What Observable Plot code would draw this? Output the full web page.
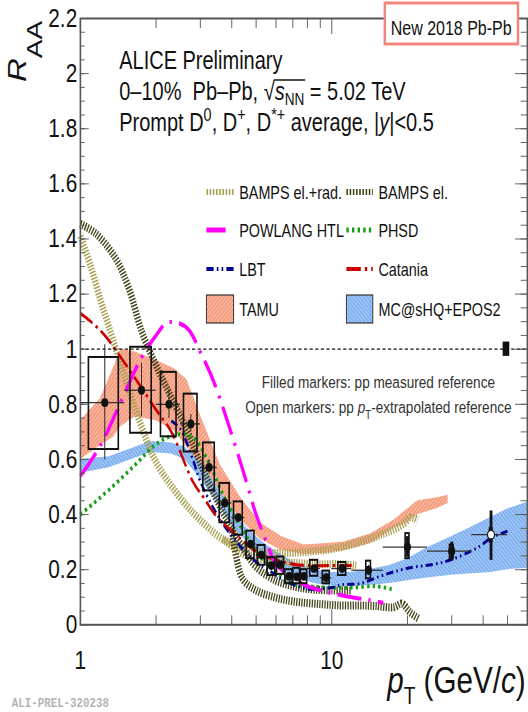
<!DOCTYPE html>
<html><head><meta charset="utf-8">
<script src="https://cdn.jsdelivr.net/npm/d3@7"></script>
<script src="https://cdn.jsdelivr.net/npm/@observablehq/plot@0.6"></script>
<style>
html,body{margin:0;padding:0;background:#fff;overflow:hidden;}
#chart svg{display:block;}
</style></head><body><div id="chart"></div>
<script>
// ---------------- data ----------------
const binEdges = [1,1.5,2,2.5,3,3.5,4,4.5,5,5.5,6,6.5,7,7.5,8,9,10,12,16,24,36,50];
const ptCenters = [1.25,1.75,2.25,2.75,3.25,3.75,4.25,4.75,5.25,5.75,6.25,6.75,7.25,7.75,8.5,9.5,11,14,20,30,43];
const raa    = [0.806,0.851,0.800,0.729,0.571,0.442,0.389,0.293,0.253,0.215,0.218,0.176,0.174,0.176,0.204,0.171,0.204,0.198,0.282,0.267,0.327];
const statLo = [0.598,0.755,0.749,0.700,0.547,0.425,0.375,0.280,0.243,0.205,0.207,0.165,0.163,0.165,0.192,0.158,0.190,0.180,0.245,0.231,0.234];
const statHi = [1.016,0.949,0.852,0.763,0.597,0.460,0.403,0.305,0.263,0.225,0.229,0.187,0.185,0.188,0.216,0.184,0.218,0.215,0.320,0.300,0.413];
const sysLo  = [0.636,0.695,0.682,0.627,0.486,0.370,0.325,0.240,0.216,0.179,0.183,0.149,0.149,0.149,0.176,0.149,0.179,0.167,0.240,0.240,0.300];
const sysHi  = [0.970,1.007,0.916,0.837,0.660,0.513,0.446,0.340,0.288,0.244,0.246,0.200,0.205,0.200,0.234,0.195,0.226,0.231,0.331,0.289,0.349];
const sysHalfWidth = [0.17,0.17,0.16,0.17,0.17,0.17,0.17,0.17,0.18,0.2,0.2,0.22,0.22,0.22,0.3,0.3,0.4,0.3,0.35,0.5,0.45];
const extrapolatedRef = [false,false,false,false,false,false,false,false,false,false,false,false,false,false,false,false,false,false,false,false,true];
const normUnc = 0.026;
const normBoxPt = [48, 51];

const tamuPt = [1.0,1.2,1.35,1.45,1.65,2.0,2.35,2.65,3.0,3.6,4.35,5.2,6.3,7.75,9.5,11.2,14.3,17.7,20,22,26,29];
const tamuLo = [0.60,0.65,0.68,0.72,0.755,0.74,0.705,0.645,0.575,0.475,0.38,0.31,0.27,0.255,0.26,0.27,0.295,0.35,0.37,0.40,0.42,0.44];
const tamuHi = [0.74,0.82,0.93,1.0,0.99,0.96,0.93,0.89,0.76,0.58,0.46,0.37,0.32,0.29,0.295,0.30,0.33,0.38,0.42,0.45,0.46,0.47];

const mcPt = [1.0,1.3,1.6,1.9,2.3,2.6,3.0,3.5,4.0,4.6,5.3,6.0,7.0,8.5,10,12,14,17,20,24,30,36,43,50,60];
const mcLo = [0.55,0.57,0.60,0.625,0.62,0.60,0.53,0.44,0.36,0.30,0.24,0.21,0.175,0.15,0.14,0.14,0.143,0.15,0.16,0.17,0.18,0.185,0.19,0.2,0.205];
const mcHi = [0.60,0.61,0.64,0.665,0.66,0.645,0.59,0.50,0.42,0.35,0.30,0.265,0.23,0.20,0.19,0.19,0.20,0.215,0.24,0.28,0.32,0.355,0.39,0.42,0.445];

const bampsElRadPt  = [1,1.1,1.2,1.3,1.5,1.75,2.0,2.5,3.0,3.7,4.5,5.2,6.5,8,10,13,16,18,19.5,20.5,22];
const bampsElRadVal = [1.41,1.30,1.18,1.08,0.90,0.72,0.59,0.46,0.38,0.31,0.28,0.265,0.26,0.265,0.275,0.30,0.33,0.35,0.37,0.39,0.38];
const bampsElRad2Pt  = [3.7,4.5,5.5,7,9,11,12.5];
const bampsElRad2Val = [0.31,0.255,0.235,0.225,0.22,0.22,0.215];
const bampsElPt  = [1,1.15,1.38,1.56,1.76,2.05,2.4,2.7,3.05,3.5,4.0,4.5,5,6,7,8,10,12];
const bampsElVal = [1.455,1.42,1.33,1.22,1.06,0.92,0.79,0.69,0.57,0.45,0.35,0.27,0.21,0.16,0.14,0.13,0.125,0.125];
const bampsEl2Pt  = [4.0,4.4,5.0,5.9,7,9,11,13,15,17.7,19,20.5,22.3];
const bampsEl2Val = [0.35,0.17,0.125,0.10,0.085,0.075,0.07,0.07,0.068,0.064,0.077,0.045,0.02];

const powlangPt  = [1,1.2,1.5,1.75,2,2.2,2.45,2.7,3,3.4,4,4.5,5,5.5,6,7,8,10,12,14,16];
const powlangVal = [0.54,0.65,0.84,0.97,1.05,1.095,1.095,1.07,0.99,0.88,0.69,0.54,0.40,0.30,0.22,0.17,0.14,0.115,0.10,0.09,0.08];
const phsdPt  = [1,1.3,1.65,2,2.4,2.8,3.2,3.7,4.25,5,6,7,8,10,12,15,17.5];
const phsdVal = [0.40,0.49,0.58,0.655,0.69,0.68,0.60,0.47,0.37,0.27,0.19,0.15,0.14,0.135,0.135,0.14,0.128];
const lbtPt  = [2.3,2.5,2.8,3.0,3.5,4.1,4.9,5.9,6.5,8,10,11,13,16,20,28,38,43,50];
const lbtVal = [0.74,0.71,0.60,0.52,0.40,0.31,0.235,0.185,0.16,0.13,0.135,0.145,0.15,0.18,0.205,0.228,0.28,0.315,0.34];
const cataniaPt  = [1,1.1,1.25,1.5,1.75,2,2.3,2.8,3.1,3.5,4,4.5,5,6,7,8,10,12];
const cataniaVal = [1.13,1.10,1.05,0.95,0.86,0.78,0.70,0.52,0.46,0.39,0.34,0.30,0.265,0.235,0.22,0.215,0.215,0.215];

const yMajor = [0,0.2,0.4,0.6,0.8,1.0,1.2,1.4,1.6,1.8,2.0,2.2];
const yMinor = d3.range(0, 2.2001, 0.05);
const xMajor = [1, 10];
const xMinor = [2,3,4,5,6,7,8,9,20,30,40,50];

// ---------------- tables ----------------
const rows = ptCenters.map((pt, i) => ({pt, raa: raa[i], statLo: statLo[i], statHi: statHi[i],
  sysLo: sysLo[i], sysHi: sysHi[i], bw: sysHalfWidth[i], lo: binEdges[i], hi: binEdges[i+1], ext: extrapolatedRef[i]}));
const toLine = (p, v) => p.map((pt, i) => ({pt, v: v[i]}));
const toBand = (p, lo, hi) => p.map((pt, i) => ({pt, lo: lo[i], hi: hi[i]}));

const FONT = '"Liberation Sans", Arial, Helvetica, sans-serif';
const W = 660, H = 712;   // drawn in a 660-wide frame, displayed 528 wide (condensed like the original)

const sty = {
  elRad:  {stroke: "#a8a255", strokeWidth: 8, strokeDasharray: "1.6,1.6", hatch: true},
  el:     {stroke: "#47451c", strokeWidth: 8, strokeDasharray: "1.6,1.6", hatch: true},
  pow:    {stroke: "#ff00ff", strokeWidth: 4, strokeDasharray: "30,9,3,9"},
  phsd:   {stroke: "#14a014", strokeWidth: 4, strokeDasharray: "3,4"},
  lbt:    {stroke: "#000096", strokeWidth: 3, strokeDasharray: "9,4,2,4,2,4"},
  cat:    {stroke: "#cc0000", strokeWidth: 3, strokeDasharray: "18,5,3,5"}
};
const ln = (data, s) => Plot.line(data, {x: "pt", y: "v", stroke: s.stroke, strokeWidth: s.strokeWidth,
  strokeDasharray: s.strokeDasharray, strokeLinecap: "butt", curve: "catmull-rom"});
const tickStroke = "#555";

const svg = Plot.plot({
  width: W, height: H,
  marginLeft: 100, marginRight: 1.25, marginTop: 18, marginBottom: 87.7,
  x: {type: "log", domain: [1, 60], label: null},
  y: {domain: [0, 2.2], label: null},
  style: {fontFamily: FONT, background: "white", color: "#111"},
  marks: [
    Plot.areaY(toBand(tamuPt, tamuLo, tamuHi), {x: "pt", y1: "lo", y2: "hi", fill: "url(#hatchTamu)"}),
    Plot.areaY(toBand(mcPt, mcLo, mcHi), {x: "pt", y1: "lo", y2: "hi", fill: "url(#hatchMc)"}),
    ln(toLine(bampsElRadPt, bampsElRadVal), sty.elRad),
    ln(toLine(bampsElRad2Pt, bampsElRad2Val), sty.elRad),
    ln(toLine(bampsElPt, bampsElVal), sty.el),
    ln(toLine(bampsEl2Pt, bampsEl2Val), sty.el),
    ln(toLine(phsdPt, phsdVal), sty.phsd),
    ln(toLine(lbtPt, lbtVal), sty.lbt),
    ln(toLine(cataniaPt, cataniaVal), sty.cat),
    ln(toLine(powlangPt, powlangVal), sty.pow),
    Plot.ruleY([1], {stroke: "#111", strokeWidth: 1.2, strokeDasharray: "4,3"}),
    Plot.rect([{x1: normBoxPt[0], x2: normBoxPt[1], y1: 1 - normUnc, y2: 1 + normUnc}], {x1: "x1", x2: "x2", y1: "y1", y2: "y2", fill: "#111"}),
    // data
    Plot.ruleY(rows, {x1: "lo", x2: "hi", y: "raa", stroke: "#333", strokeWidth: 1.3}),
    Plot.ruleX(rows, {filter: d => d.pt < 16, x: "pt", y1: "statLo", y2: "statHi", stroke: "#333", strokeWidth: 1.3}),
    Plot.ruleX(rows, {filter: d => d.pt >= 16, x: "pt", y1: "statLo", y2: "statHi", stroke: "#111", strokeWidth: 3.5}),
    Plot.rect(rows, {x1: d => d.pt - d.bw, x2: d => d.pt + d.bw, y1: "sysLo", y2: "sysHi", fill: "none", stroke: "#111", strokeWidth: 2}),
    Plot.dot(rows, {filter: d => !d.ext, x: "pt", y: "raa", r: 4.4, fill: "#111", stroke: "none"}),
    Plot.dot(rows, {filter: d => d.ext, x: "pt", y: "raa", r: 4.4, fill: "white", stroke: "#111", strokeWidth: 1.5}),
    // axes
    Plot.axisY({anchor: "left", ticks: yMajor, tickSize: -11, text: null, label: null, stroke: tickStroke}),
    Plot.axisY({anchor: "left", ticks: yMinor, tickSize: -6, text: null, label: null, stroke: tickStroke}),
    Plot.axisY({anchor: "right", ticks: yMajor, tickSize: -16, text: null, label: null, stroke: tickStroke}),
    Plot.axisY({anchor: "right", ticks: yMinor, tickSize: -9, text: null, label: null, stroke: tickStroke}),
    Plot.axisY({anchor: "left", ticks: yMajor, tickSize: 0, tickPadding: 4, fontSize: 26, label: null,
      tickFormat: d => String(+d.toFixed(1))}),
    Plot.axisX({anchor: "bottom", ticks: xMajor, tickSize: -15, text: null, label: null, stroke: tickStroke}),
    Plot.axisX({anchor: "bottom", ticks: xMinor, tickSize: -9, text: null, label: null, stroke: tickStroke}),
    Plot.axisX({anchor: "top", ticks: xMajor, tickSize: -15, text: null, label: null, stroke: tickStroke}),
    Plot.axisX({anchor: "top", ticks: xMinor, tickSize: -9, text: null, label: null, stroke: tickStroke}),
    Plot.axisX({anchor: "bottom", ticks: xMajor, tickSize: 0, tickPadding: 26, fontSize: 26, label: null,
      tickFormat: d => String(d)}),
    Plot.frame({stroke: "#555", strokeWidth: 2})
  ]
});

document.getElementById("chart").appendChild(svg);
svg.setAttribute("viewBox", `0 0 ${W} ${H}`);
svg.setAttribute("width", 528);
svg.setAttribute("height", 712);
svg.setAttribute("preserveAspectRatio", "none");
svg.style.width = "528px"; svg.style.height = "712px"; svg.style.maxWidth = "none";

// ---------------- decorations (natural coordinates) ----------------
const NS = "http://www.w3.org/2000/svg";
function add(parent, tag, attrs = {}, text) {
  const e = document.createElementNS(NS, tag);
  for (const [k, v] of Object.entries(attrs)) e.setAttribute(k, v);
  if (text != null) e.textContent = text;
  parent.appendChild(e);
  return e;
}
// patterns
const defs = add(svg, "defs");
function hatch(id, bg, angle) {
  const p = add(defs, "pattern", {id, patternUnits: "userSpaceOnUse", width: 3.2, height: 3.2, patternTransform: `rotate(${angle})`});
  add(p, "rect", {width: 3.2, height: 3.2, fill: bg});
  add(p, "line", {x1: 0, y1: 0, x2: 0, y2: 3.2, stroke: "white", "stroke-width": 1.1, "stroke-opacity": 0.75});
}
hatch("hatchTamu", "#f59a7b", 45);
hatch("hatchMc", "#7fb0f0", -45);
svg.insertBefore(defs, svg.firstChild);

const g = add(svg, "g", {"font-family": FONT, fill: "#111", "text-anchor": "start"});

// header texts
add(g, "text", {x: 149, y: 69, "font-size": 25}, "ALICE Preliminary");
const t2 = add(g, "text", {x: 149, y: 100, "font-size": 25});
add(t2, "tspan", {}, "0–10%");
add(t2, "tspan", {dx: 7}, " Pb–Pb, ");
add(t2, "tspan", {}, "√");
add(t2, "tspan", {"font-style": "italic"}, "s");
add(t2, "tspan", {"font-size": 17, dy: 5}, "NN");
add(t2, "tspan", {dy: -5}, " = 5.02 TeV");
{
  const txt = t2.textContent;
  const iR = txt.indexOf("√");
  const a = t2.getEndPositionOfChar(iR).x;
  const b = t2.getEndPositionOfChar(iR + 3).x;
  add(g, "line", {x1: a - 1, x2: b + 1, y1: 80, y2: 80, stroke: "#111", "stroke-width": 1.3});
}
const t3 = add(g, "text", {x: 149, y: 131, "font-size": 25});
add(t3, "tspan", {}, "Prompt D");
add(t3, "tspan", {"font-size": 18, dy: -10}, "0");
add(t3, "tspan", {dy: 10}, ", D");
add(t3, "tspan", {"font-size": 18, dy: -10}, "+");
add(t3, "tspan", {dy: 10}, ", D");
add(t3, "tspan", {"font-size": 18, dy: -10}, "*+");
add(t3, "tspan", {dy: 10}, " average, |");
add(t3, "tspan", {"font-style": "italic"}, "y");
add(t3, "tspan", {}, "|<0.5");

// "New 2018 Pb-Pb" box (white-filled, covers the top ticks)
add(g, "rect", {x: 481, y: 3, width: 166.5, height: 41, fill: "white", stroke: "#f2867e", "stroke-width": 3});
add(g, "text", {x: 564, y: 35.5, "font-size": 20, "text-anchor": "middle"}, "New 2018 Pb-Pb");

// legend
const legRows = [192, 230, 269];
const legCols = [[258, 292, 299], [433, 466, 473]];
const legItems = [
  [0, 0, "BAMPS el.+rad.", sty.elRad], [1, 0, "BAMPS el.", sty.el],
  [0, 1, "POWLANG HTL", sty.pow], [1, 1, "PHSD", sty.phsd],
  [0, 2, "LBT", sty.lbt], [1, 2, "Catania", sty.cat]
];
for (const [c, r, label, s] of legItems) {
  const [x1, x2, xl] = legCols[c];
  add(g, "line", {x1, x2: s === sty.pow ? x1 + 24 : x2, y1: legRows[r], y2: legRows[r], stroke: s.stroke,
    "stroke-width": s.hatch ? 6 : (s.strokeWidth + 1),
    "stroke-dasharray": s.hatch ? "2,2" : (s === sty.pow ? "none" : s.strokeDasharray)});
  add(g, "text", {x: xl, y: legRows[r] + 7, "font-size": 18}, label);
}
add(g, "rect", {x: 258, y: 295, width: 34, height: 28, fill: "url(#hatchTamu)", stroke: "#333", "stroke-width": 1.2});
add(g, "text", {x: 299, y: 316, "font-size": 18}, "TAMU");
add(g, "rect", {x: 433, y: 295, width: 33, height: 28, fill: "url(#hatchMc)", stroke: "#333", "stroke-width": 1.2});
add(g, "text", {x: 473, y: 316, "font-size": 18}, "MC@sHQ+EPOS2");

// marker note
add(g, "text", {x: 473, y: 388, "font-size": 17, "text-anchor": "middle", fill: "#333"}, "Filled markers: pp measured reference");
const t5 = add(g, "text", {x: 473, y: 413, "font-size": 17, "text-anchor": "middle", fill: "#333"});
add(t5, "tspan", {}, "Open markers: pp ");
add(t5, "tspan", {"font-style": "italic"}, "p");
add(t5, "tspan", {"font-size": 12, dy: 6}, "T");
add(t5, "tspan", {dy: -6}, "-extrapolated reference");

// axis titles
const ty = add(g, "text", {transform: "translate(32,82) rotate(-90)", "font-size": 33});
add(ty, "tspan", {"font-style": "italic"}, "R");
add(ty, "tspan", {"font-size": 28, dy: 21}, "AA");
const tx = add(g, "text", {x: 484, y: 693, "font-size": 37});
add(tx, "tspan", {"font-style": "italic"}, "p");
add(tx, "tspan", {"font-size": 24, dy: 11}, "T");
add(tx, "tspan", {dy: -11}, " (GeV/");
add(tx, "tspan", {"font-style": "italic"}, "c");
add(tx, "tspan", {}, ")");

add(g, "text", {x: 14.75, y: 707, "font-size": 13.5, "font-family": '"Liberation Mono", "DejaVu Sans Mono", monospace', "font-weight": "bold", fill: "#b4b4b4"}, "ALI-PREL-320238");
</script>
</body></html>
